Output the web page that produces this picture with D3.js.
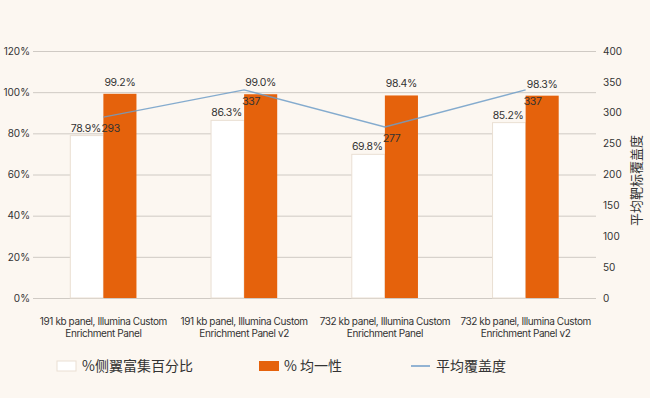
<!DOCTYPE html>
<html>
<head>
<meta charset="utf-8">
<script src="https://cdn.jsdelivr.net/npm/d3@7"></script>
<style>
  body { margin: 0; background: #fcf7f1; }
  svg { display: block; }
  text { font-family: Inter, "Noto Sans CJK SC", sans-serif; fill: #333; }
</style>
</head>
<body>
<div id="vis"></div>
<script>
// data
var categories = [
  ["191 kb panel, Illumina Custom", "Enrichment Panel"],
  ["191 kb panel, Illumina Custom", "Enrichment Panel v2"],
  ["732 kb panel, Illumina Custom", "Enrichment Panel"],
  ["732 kb panel, Illumina Custom", "Enrichment Panel v2"]
];
var flankPct = [78.9, 86.3, 69.8, 85.2];
var uniformPct = [99.2, 99.0, 98.4, 98.3];
var meanCoverage = [293, 337, 277, 337];
var leftTicks = [0, 20, 40, 60, 80, 100, 120];
var rightTicks = [0, 50, 100, 150, 200, 250, 300, 350, 400];
var seriesNames = ["%侧翼富集百分比", "% 均一性", "平均覆盖度"];
var rightTitle = "平均靶标覆盖度";

var width = 650, height = 398;
var margin = {top: 51, right: 54, bottom: 100, left: 33};
var plotW = width - margin.left - margin.right,
    plotH = height - margin.top - margin.bottom;

var orange = "#e5620c", blue = "#6f9dc8";

var svg = d3.select("#vis").append("svg")
    .attr("width", width)
    .attr("height", height);

var g = svg.append("g")
    .attr("transform", "translate(" + margin.left + "," + margin.top + ")");

var idx = d3.range(categories.length);

var x = d3.scaleBand()
    .domain(idx)
    .range([0, plotW])
    .paddingInner(0.53)
    .paddingOuter(0.265);

var xs = d3.scaleBand()
    .domain([0, 1])
    .range([0, x.bandwidth()]);

var y = d3.scaleLinear().domain([0, 120]).range([plotH, 0]);
var y2 = d3.scaleLinear().domain([0, 400]).range([plotH, 0]);

// gridlines + left labels
var leftAxis = g.append("g")
    .call(d3.axisLeft(y).tickValues(leftTicks).tickSize(-plotW)
      .tickFormat(function(d) { return d + "%"; }));
leftAxis.select(".domain").remove();
leftAxis.selectAll("line").attr("stroke", "#cfcac4");
leftAxis.selectAll("text").attr("x", -3).style("font-size", "10px").attr("fill", "#444");

var rightAxis = g.append("g")
    .attr("transform", "translate(" + plotW + ",0)")
    .call(d3.axisRight(y2).tickValues(rightTicks).tickSize(0));
rightAxis.select(".domain").remove();
rightAxis.selectAll("text").attr("x", 7).style("font-size", "10px").attr("fill", "#444");

g.append("text")
    .attr("transform", "translate(" + (plotW + 45) + "," + (plotH / 2 + 6) + ") rotate(-90)")
    .attr("text-anchor", "middle")
    .style("font-family", "'Noto Sans CJK SC'")
    .style("font-size", "13px")
    .attr("fill", "#222")
    .text(rightTitle);

// bars
var groups = g.selectAll(".grp")
    .data(idx)
  .enter().append("g")
    .attr("class", "grp")
    .attr("transform", function(i) { return "translate(" + x(i) + ",0)"; });

groups.append("rect")
    .attr("x", xs(0))
    .attr("width", xs.bandwidth())
    .attr("y", function(i) { return y(flankPct[i]); })
    .attr("height", function(i) { return plotH - y(flankPct[i]); })
    .attr("fill", "#fff")
    .attr("stroke", "#eadfd3")
    .attr("stroke-width", 1);

groups.append("rect")
    .attr("x", xs(1))
    .attr("width", xs.bandwidth())
    .attr("y", function(i) { return y(uniformPct[i]); })
    .attr("height", function(i) { return plotH - y(uniformPct[i]); })
    .attr("fill", orange);

groups.append("text")
    .attr("x", xs(0) + xs.bandwidth() / 2 - 1)
    .attr("y", function(i) { return y(flankPct[i]) - 4; })
    .attr("text-anchor", "middle")
    .style("font-size", "10.5px")
    .style("letter-spacing", "-0.3px")
    .text(function(i) { return flankPct[i].toFixed(1) + "%"; });

groups.append("text")
    .attr("x", xs(1) + xs.bandwidth() / 2)
    .attr("y", function(i) { return y(uniformPct[i]) - 8; })
    .attr("text-anchor", "middle")
    .style("font-size", "10.5px")
    .style("letter-spacing", "-0.3px")
    .text(function(i) { return uniformPct[i].toFixed(1) + "%"; });

// coverage line
var cx = function(i) { return x(i) + x.bandwidth() / 2; };
g.append("path")
    .datum(idx)
    .attr("fill", "none")
    .attr("stroke", blue)
    .attr("stroke-opacity", 0.85)
    .attr("stroke-width", 1.3)
    .attr("d", d3.line().x(cx).y(function(i) { return y2(meanCoverage[i]); }));

g.selectAll(".covlab")
    .data(idx)
  .enter().append("text")
    .attr("class", "covlab")
    .attr("x", function(i) { return cx(i) - 2; })
    .attr("y", function(i) { return y2(meanCoverage[i]) + 15; })
    .style("font-size", "10.5px")
    .style("letter-spacing", "-0.3px")
    .attr("fill", "#2a1a10")
    .text(function(i) { return meanCoverage[i]; });

// category labels
var xl = g.selectAll(".xlab")
    .data(idx)
  .enter().append("text")
    .attr("class", "xlab")
    .attr("text-anchor", "middle")
    .attr("transform", function(i) { return "translate(" + cx(i) + "," + (plotH + 27) + ")"; })
    .style("font-size", "10px")
    .style("letter-spacing", "-0.4px")
    .attr("fill", "#222");
xl.append("tspan").attr("x", 0).attr("y", 0).text(function(i) { return categories[i][0]; });
xl.append("tspan").attr("x", 0).attr("y", 12).text(function(i) { return categories[i][1]; });

// legend
var legX = [57, 259, 411];
var leg = svg.selectAll(".leg")
    .data(seriesNames)
  .enter().append("g")
    .attr("class", "leg")
    .attr("transform", function(d, i) { return "translate(" + legX[i] + ",366)"; });

leg.each(function(d, i) {
  var s = d3.select(this);
  if (i === 0) {
    s.append("rect").attr("x", 0).attr("y", -5).attr("width", 19).attr("height", 10)
      .attr("fill", "#fff").attr("stroke", "#eadfd3");
  } else if (i === 1) {
    s.append("rect").attr("x", 0).attr("y", -5).attr("width", 20).attr("height", 10)
      .attr("fill", orange);
  } else {
    s.append("line").attr("x1", 0).attr("x2", 19).attr("y1", 0).attr("y2", 0)
      .attr("stroke", blue).attr("stroke-width", 1.5);
  }
  s.append("text")
    .attr("x", 25)
    .attr("y", 5)
    .style("font-family", "'Noto Sans CJK SC'")
    .style("font-size", "14px")
    .attr("fill", "#222")
    .text(d);
});
</script>
</body>
</html>
